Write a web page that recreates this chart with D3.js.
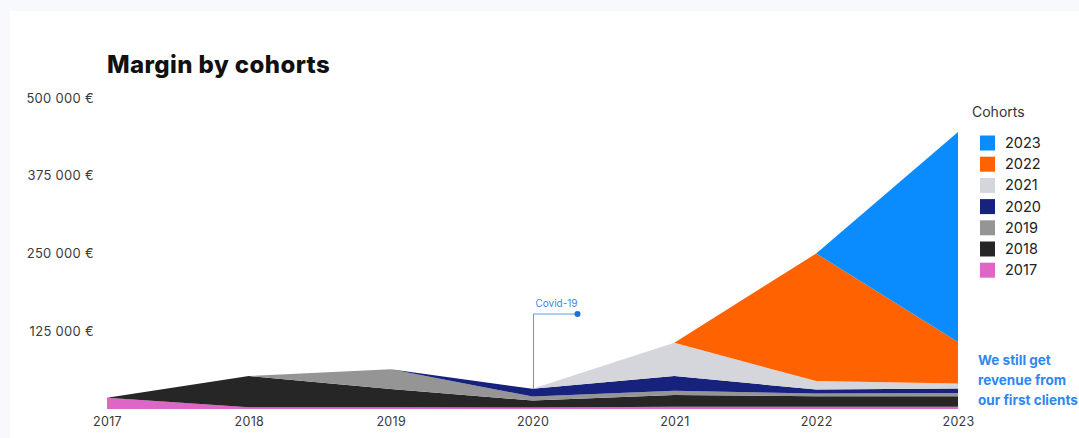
<!DOCTYPE html>
<html>
<head>
<meta charset="utf-8">
<script src="https://cdn.jsdelivr.net/npm/d3@7"></script>
<style>
  html, body { margin: 0; padding: 0; background: #f7f9fd; }
  svg { display: block; }
</style>
</head>
<body>
<svg id="chart" width="1079" height="438"></svg>
<script>
// Years on the x axis
const years = [2017, 2018, 2019, 2020, 2021, 2022, 2023];

// Cohort names, bottom of the stack first
const cohorts = ["2017", "2018", "2019", "2020", "2021", "2022", "2023"];

// Margin (€) earned each year by each cohort
const cohort2017 = [18000, 3000, 3000, 2500, 3500, 3500, 3500];
const cohort2018 = [0, 50000, 29000, 11000, 19000, 17000, 17000];
const cohort2019 = [0, 0, 32000, 6500, 7000, 4300, 5300];
const cohort2020 = [0, 0, 0, 12500, 23500, 6400, 7100];
const cohort2021 = [0, 0, 0, 0, 53500, 13800, 8000];
const cohort2022 = [0, 0, 0, 0, 0, 205000, 67000];
const cohort2023 = [0, 0, 0, 0, 0, 0, 337600];

const cohortColors = ["#dd66c6", "#262626", "#959595", "#17227e", "#d5d6db", "#ff6200", "#0a8cff"];

const yTicks = [125000, 250000, 375000, 500000];
const yTickLabels = ["125 000 €", "250 000 €", "375 000 €", "500 000 €"];

const series = [cohort2017, cohort2018, cohort2019, cohort2020, cohort2021, cohort2022, cohort2023];
const rows = years.map((yr, i) => {
  const r = { year: yr };
  cohorts.forEach((c, j) => { r[c] = series[j][i]; });
  return r;
});

const svg = d3.select("#chart");
const font = "Inter, 'DejaVu Sans', sans-serif";

// white card
svg.append("rect").attr("x", 10).attr("y", 11).attr("width", 1079).attr("height", 438).attr("fill", "#ffffff");

const x = d3.scaleLinear().domain([2017, 2023]).range([107, 958]);
const y = d3.scaleLinear().domain([0, 500000]).range([409, 98]);

const stacked = d3.stack().keys(cohorts)(rows);
const area = d3.area()
  .x(d => x(d.data.year))
  .y0(d => y(d[0]))
  .y1(d => y(d[1]));

svg.append("g").selectAll("path")
  .data(stacked)
  .join("path")
  .attr("d", area)
  .attr("fill", (d, i) => cohortColors[i]);

// title
svg.append("text")
  .attr("x", 107).attr("y", 73)
  .attr("font-family", font).attr("font-weight", 800).attr("font-size", 24)
  .attr("letter-spacing", 0.4)
  .attr("fill", "#111")
  .text("Margin by cohorts");

// y axis labels
const yAxis = d3.axisLeft(y).tickValues(yTicks)
  .tickFormat((d, i) => yTickLabels[i]).tickSize(0).tickPadding(0);
const gy = svg.append("g").attr("transform", "translate(94,0)").call(yAxis);
gy.select(".domain").remove();
gy.selectAll("text").attr("font-family", font).attr("font-size", 13)
  .attr("letter-spacing", 0.3).attr("fill", "#3a3a3a");

// x axis labels
const xAxis = d3.axisBottom(x).tickValues(years).tickFormat(d3.format("d")).tickSize(0).tickPadding(0);
const gx = svg.append("g").attr("transform", "translate(0,417)").call(xAxis);
gx.select(".domain").remove();
gx.selectAll("text").attr("font-family", font).attr("font-size", 12.5)
  .attr("letter-spacing", 0.3).attr("fill", "#3a3a3a");

// Covid-19 annotation
const covidYear = 2020;
const covidTop = 314;
const covidX = x(covidYear) + 1;
const covidBase = y(d3.sum(series, s => s[years.indexOf(covidYear)]));
svg.append("path")
  .attr("d", `M${covidX},${covidBase}V${covidTop}H${covidX + 44}`)
  .attr("fill", "none").attr("stroke", "#5a9cec").attr("stroke-width", 1);
svg.append("circle").attr("cx", covidX + 44).attr("cy", covidTop).attr("r", 3).attr("fill", "#1f6fe0");
svg.append("text")
  .attr("x", covidX + 23).attr("y", 307).attr("text-anchor", "middle")
  .attr("font-family", font).attr("font-size", 10).attr("fill", "#3b86ea")
  .text("Covid-19");

// legend
const legend = svg.append("g");
legend.append("text")
  .attr("x", 972).attr("y", 117)
  .attr("font-family", font).attr("font-size", 14).attr("fill", "#333")
  .text("Cohorts");
const legendItems = cohorts.slice().reverse();
legendItems.forEach((c, i) => {
  const cy = 143 + i * 21.2;
  legend.append("rect")
    .attr("x", 980).attr("y", cy - 7.5).attr("width", 15).attr("height", 15)
    .attr("fill", cohortColors[cohorts.indexOf(c)]);
  legend.append("text")
    .attr("x", 1005).attr("y", cy + 5)
    .attr("font-family", font).attr("font-size", 14.5).attr("fill", "#222")
    .text(c);
});

// note on older cohorts
const note = ["We still get", "revenue from", "our first clients"];
svg.append("g").selectAll("text")
  .data(note)
  .join("text")
  .attr("x", 978).attr("y", (d, i) => 365 + i * 20)
  .attr("font-family", font).attr("font-weight", 700).attr("font-size", 13.5)
  .attr("fill", "#2e86ef")
  .text(d => d);
</script>
</body>
</html>
